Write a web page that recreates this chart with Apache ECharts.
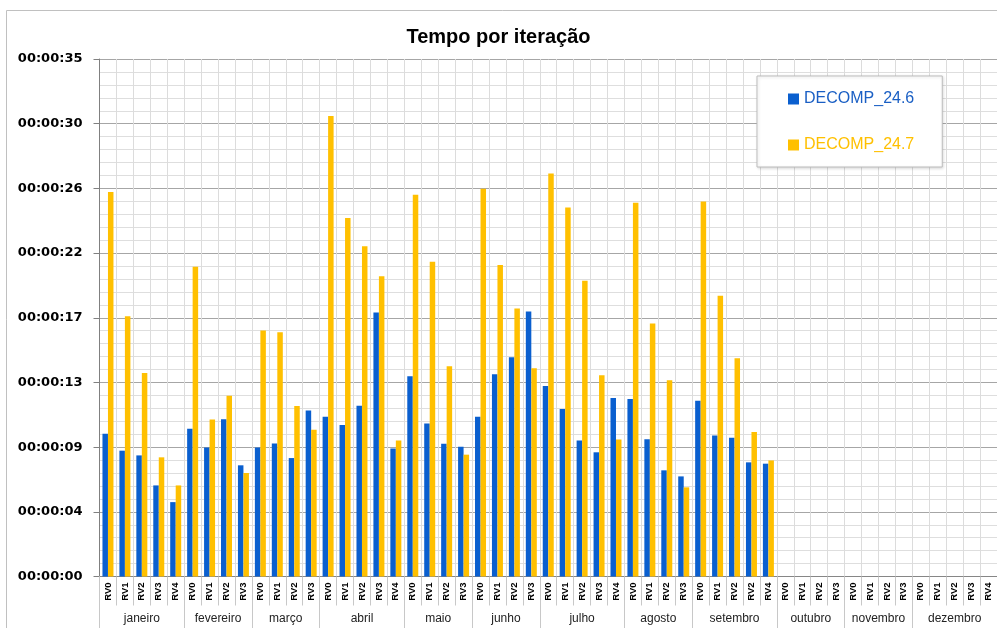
<!DOCTYPE html>
<html>
<head>
<meta charset="utf-8">
<script src="https://cdn.jsdelivr.net/npm/echarts@6/dist/echarts.min.js"></script>
<style>
html,body{margin:0;padding:0;background:#fff;}
#chart{width:997px;height:628px;}
</style>
</head>
<body>
<div id="chart"></div>
<script>
// ---- data ----
var months = ['janeiro','fevereiro','março','abril','maio','junho','julho','agosto','setembro','outubro','novembro','dezembro'];
var monthRevisions = [
  ['RV0','RV1','RV2','RV3','RV4'],
  ['RV0','RV1','RV2','RV3'],
  ['RV0','RV1','RV2','RV3'],
  ['RV0','RV1','RV2','RV3','RV4'],
  ['RV0','RV1','RV2','RV3'],
  ['RV0','RV1','RV2','RV3'],
  ['RV0','RV1','RV2','RV3','RV4'],
  ['RV0','RV1','RV2','RV3'],
  ['RV0','RV1','RV2','RV2','RV4'],
  ['RV0','RV1','RV2','RV3'],
  ['RV0','RV1','RV2','RV3'],
  ['RV0','RV1','RV2','RV3','RV4']
];
// seconds
var decomp246 = [9.66, 8.51, 8.19, 6.16, 5.03,
  10.0, 8.73, 10.63, 7.52,
  8.73, 9.0, 8.01, 11.22,
  10.81, 10.25, 11.54, 17.85, 8.65,
  13.54, 10.34, 8.98, 8.78,
  10.81, 13.68, 14.83, 17.92,
  12.89, 11.33, 9.19, 8.4, 12.08,
  12.01, 9.28, 7.18, 6.77,
  11.88, 9.53, 9.39, 7.72, 7.63,
  null, null, null, null,
  null, null, null, null,
  null, null, null, null, null];
var decomp247 = [26.0, 17.6, 13.77, 8.06, 6.16,
  20.95, 10.61, 12.23, 7.0,
  16.63, 16.52, 11.53, 9.93,
  31.14, 24.24, 22.34, 20.31, 9.19,
  25.82, 21.29, 14.22, 8.24,
  26.23, 21.06, 18.12, 14.08,
  27.26, 24.96, 20.0, 13.61, 9.26,
  25.28, 17.11, 13.27, 6.03,
  25.37, 18.98, 14.76, 9.78, 7.85,
  null, null, null, null,
  null, null, null, null,
  null, null, null, null, null];
var yTickLabels = ['00:00:00','00:00:04','00:00:09','00:00:13','00:00:17','00:00:22','00:00:26','00:00:30','00:00:35'];
var seriesNames = ['DECOMP_24.6','DECOMP_24.7'];

// ---- derived ----
var categories = [];
var boundaries = [0];
var centers = [];
monthRevisions.forEach(function (rvs) {
  var start = categories.length;
  rvs.forEach(function (r) { categories.push(r); });
  boundaries.push(categories.length);
  centers.push((start + categories.length) / 2);
});
var yMax = 35, yInterval = yMax / 8;

var chart = echarts.init(document.getElementById('chart'));
chart.setOption({
  animation: false,
  backgroundColor: '#fff',
  graphic: [{
    type: 'rect', silent: true, z: -1,
    shape: {x: 6.5, y: 10.5, width: 1000, height: 630},
    style: {fill: null, stroke: '#c0c0c0', lineWidth: 1}
  }],
  title: {
    text: 'Tempo por iteração',
    left: 'center', top: 22,
    textStyle: {fontFamily: 'Liberation Sans', fontWeight: 'bold', fontSize: 20, color: '#000'}
  },
  legend: {
    left: 757, top: 76,
    orient: 'vertical',
    backgroundColor: '#fff',
    borderColor: '#bdbdbd', borderWidth: 1,
    shadowColor: 'rgba(0,0,0,0.15)', shadowBlur: 3, shadowOffsetX: 1, shadowOffsetY: 1,
    padding: [15, 28, 14, 31],
    itemGap: 30,
    itemWidth: 11, itemHeight: 11,
    icon: 'rect',
    textStyle: {fontFamily: 'Liberation Sans', fontSize: 16},
    data: [
      {name: seriesNames[0], textStyle: {color: '#1a5fc4'}},
      {name: seriesNames[1], textStyle: {color: '#ffc000'}}
    ]
  },
  grid: {left: 99.5, top: 59, width: 902, height: 517.5, containLabel: false},
  xAxis: [{
    type: 'category',
    data: categories,
    position: 'bottom',
    axisLine: {lineStyle: {color: '#868686', width: 1}},
    axisTick: {show: true, length: 29, lineStyle: {color: '#c8c8c8'}},
    axisLabel: {
      interval: 0, rotate: 90, margin: 6,
      fontFamily: 'Liberation Sans', fontWeight: 'bold', fontSize: 9.5, color: '#000'
    },
    splitLine: {show: true, lineStyle: {color: '#dcdcdc', width: 1}}
  }, {
    type: 'value',
    min: 0, max: categories.length,
    position: 'bottom',
    axisLine: {show: false},
    splitLine: {show: false},
    axisTick: {show: true, customValues: boundaries, length: 60, lineStyle: {color: '#c8c8c8'}},
    axisLabel: {
      show: true, customValues: centers, margin: 36,
      fontFamily: 'Liberation Sans', fontSize: 12, color: '#222',
      formatter: function (v) {
        var i = centers.indexOf(v);
        return i >= 0 ? months[i] : '';
      }
    }
  }],
  yAxis: {
    type: 'value',
    min: 0, max: yMax, interval: yInterval,
    axisLine: {show: true, lineStyle: {color: '#808080'}},
    axisTick: {show: true, length: 6, lineStyle: {color: '#808080'}},
    axisLabel: {
      margin: 17,
      fontFamily: 'DejaVu Sans', fontWeight: 'bold', fontSize: 13, color: '#000',
      formatter: function (v) { return yTickLabels[Math.round(v / yInterval)]; }
    },
    splitLine: {show: true, lineStyle: {color: '#a6a6a6', width: 1}},
    minorTick: {show: false, splitNumber: 5},
    minorSplitLine: {show: true, lineStyle: {color: '#dedede', width: 1}}
  },
  series: [{
    name: seriesNames[0], type: 'bar', xAxisIndex: 0,
    data: decomp246, barWidth: 5.5, barGap: '0%',
    itemStyle: {color: '#0a5fcf'}
  }, {
    name: seriesNames[1], type: 'bar', xAxisIndex: 0,
    data: decomp247, barWidth: 5.5, barGap: '0%',
    itemStyle: {color: '#ffc000'}
  }]
});
</script>
</body>
</html>
